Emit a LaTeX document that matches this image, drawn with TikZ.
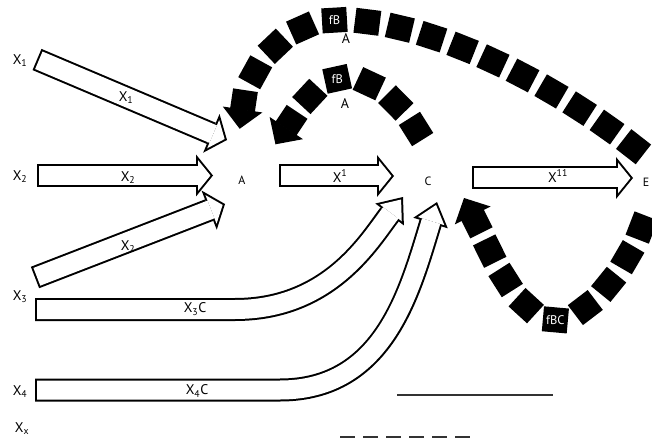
\documentclass[tikz,border=0pt]{standalone}
\usepackage{fontspec}
\setmainfont{PT Sans}
\usetikzlibrary{arrows.meta,decorations.markings}

\begin{document}
\begin{tikzpicture}[
    x=1pt, y=-1pt,
    lbl/.style={font=\fontsize{14}{16}\selectfont, inner sep=1pt},
    pt/.style={font=\fontsize{12}{14}\selectfont, inner sep=1pt},
    % open block arrows: black body, white inside
    hollow/.style={line width=23pt,
      -{Triangle[length=17pt, width=42pt, line width'=0pt]},
      postaction={draw=white, line width=19pt, shorten <=2pt, shorten >=2.57pt,
        -{Triangle[length=12.43pt, width=30.7pt, line width'=0pt]}}},
    hollowbent/.style={line width=23pt,
      -{Triangle[length=22pt, width=36pt, line width'=0pt]},
      postaction={draw=white, line width=19pt, shorten <=2pt, shorten >=3.16pt,
        -{Triangle[length=16.84pt, width=27.56pt, line width'=0pt]}}},
    % chain of black squares with a head at the start of the path
    tile/.style={fill=black, minimum size=25pt, inner sep=0pt, transform shape},
    tiletext/.style={text=white, font=\fontsize{12.5}{14}\selectfont, inner sep=0pt},
    tiles/.style={decorate, decoration={markings,
      mark=at position 0pt with {
        \fill (0pt,-12.5pt) rectangle (20pt,12.5pt);
        \fill (0.5pt,-20pt) -- (-19pt,0pt) -- (0.5pt,20pt) -- cycle;},
      mark=between positions 40pt and 1 step 33pt with {\node[tile] {};}}},
    tilelabel/.style 2 args={decorate, decoration={markings,
      mark=at position #1 with {\node[tiletext] {#2};}}},
    legend/.style={line width=1.6pt, draw=black!80}
  ]
  \useasboundingbox (0,0) rectangle (652,446);

  % Nodes
  \node[pt] (A) at (242,180) {A};
  \node[pt] (C) at (428,181) {C};
  \node[pt] (E) at (646,182) {E};

  \node[lbl] (X1) at (20,61) {X\textsubscript{1}};
  \node[lbl] (X2) at (20,177) {X\textsubscript{2}};
  \node[lbl] (X3) at (20,297) {X\textsubscript{3}};
  \node[lbl] (X4) at (20,392) {X\textsubscript{4}};
  \node[lbl] (Xx) at (22,429) {X\textsubscript{x}};

  % Arrow ends
  \coordinate (x1tail) at (37,59.5);
  \coordinate (x1tip) at (227,140);
  \coordinate (x2tail) at (37,175.5);
  \coordinate (x2tip) at (213,175.5);
  \coordinate (x3tail) at (35,277.5);
  \coordinate (x3tip) at (225,204);
  \coordinate (actail) at (279,176);
  \coordinate (actip) at (394,176);
  \coordinate (cetail) at (472,178);
  \coordinate (cetip) at (633,178);
  \coordinate (x3ctail) at (35,309.5);
  \coordinate (x3ctip) at (403,197);
  \coordinate (x4ctail) at (35,390);
  \coordinate (x4ctip) at (437,202);

  % Inputs into A
  \draw[hollow] (x1tail) -- (x1tip);
  \draw[hollow] (x2tail) -- (x2tip);
  \draw[hollow] (x3tail) -- (x3tip);

  % A -> C -> E
  \draw[hollow] (actail) -- (actip);
  \draw[hollow] (cetail) -- (cetip);

  % Inputs into C
  \draw[hollowbent] (x3ctail) -- (235,309.5) .. controls (330,309.5) and (370,240) .. (x3ctip);
  \draw[hollowbent] (x4ctail) -- (280,390) .. controls (385,390) and (410,290) .. (x4ctip);

  % Feedback chains
  \coordinate (outerHead) at (242.5,110);
  \coordinate (outerEnd) at (650,160);
  \coordinate (innerHead) at (286,128.5);
  \coordinate (innerEnd) at (425,145);
  \coordinate (lowHead) at (472.5,215);
  \coordinate (lowEnd) at (646,215);

  \path[postaction={tiles}, postaction={tilelabel={139pt}{fB}}]
    (outerHead) .. controls (250,60) and (290,20) .. (340,20)
    .. controls (430,20) and (560,85) .. (outerEnd);
  \path[postaction={tiles}, postaction={tilelabel={73pt}{fB}}]
    (innerHead) .. controls (303,103) and (320,78) .. (345,78)
    .. controls (375,78) and (405,105) .. (innerEnd);
  \path[postaction={tiles}, postaction={tilelabel={139pt}{fBC}}]
    (lowHead) .. controls (490,250) and (515,318) .. (557,320)
    .. controls (590,318) and (632,262) .. (lowEnd);

  \node[lbl] (outerA) at (346,39) {A};
  \node[lbl] (innerA) at (345,104) {A};

  % Arrow labels
  \node[lbl] (l1) at (126,98) {X\textsubscript{1}};
  \node[lbl] (l2) at (128,178) {X\textsubscript{2}};
  \node[lbl] (l2b) at (128,247) {X\textsubscript{2}};
  \node[lbl] (lac) at (340,176) {X\textsuperscript{1}};
  \node[lbl] (lce) at (558,176) {X\textsuperscript{11}};
  \node[lbl] (l3c) at (195,309) {X\textsubscript{3}C};
  \node[lbl] (l4c) at (197,391) {X\textsubscript{4}C};

  % Line key
  \coordinate (solidL) at (397,395);
  \coordinate (solidR) at (553,395);
  \coordinate (dashL) at (340,437);
  \coordinate (dashR) at (472,437);
  \draw[legend] (solidL) -- (solidR);
  \draw[legend, dash pattern=on 15pt off 8pt] (dashL) -- (dashR);

\end{tikzpicture}
\end{document}
